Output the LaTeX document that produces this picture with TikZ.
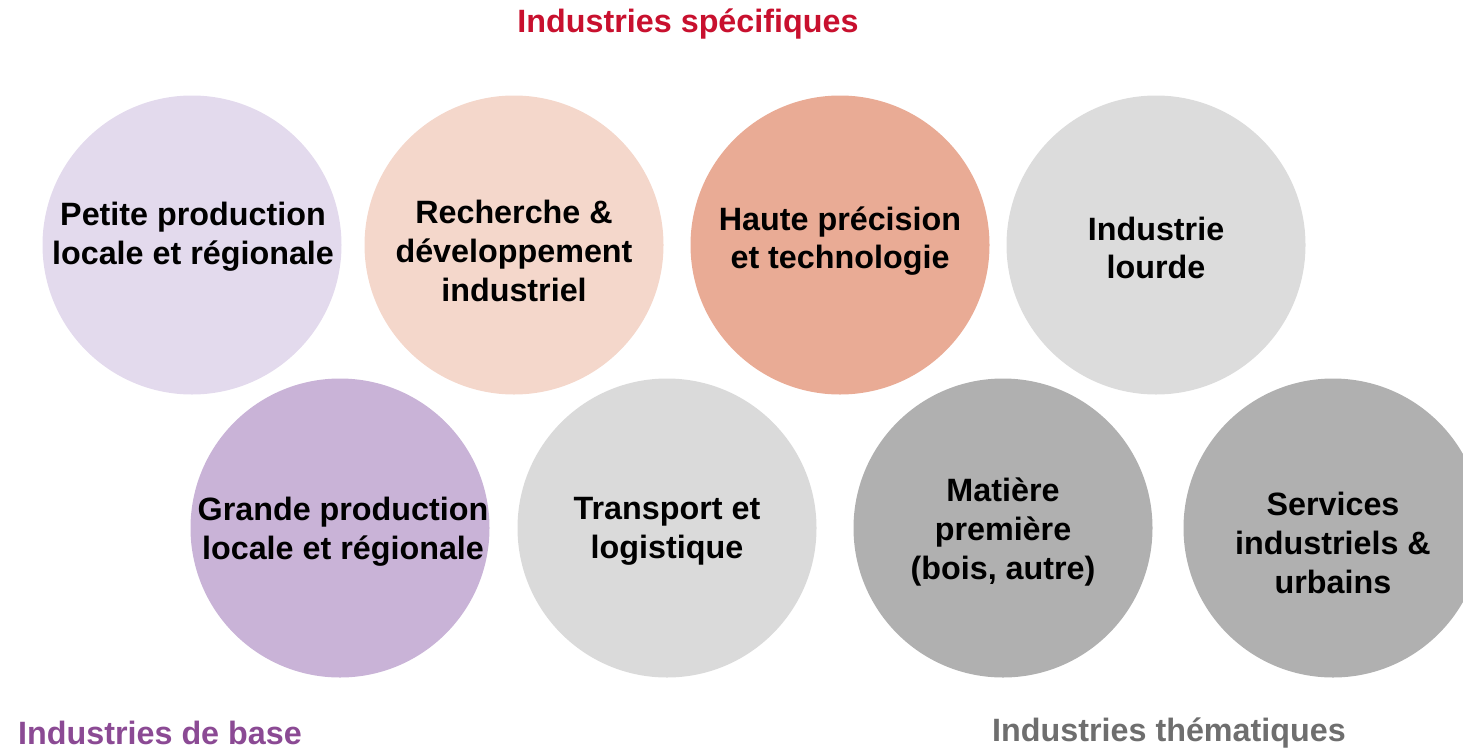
\documentclass[tikz,border=0pt]{standalone}
\usepackage{fontspec}
\setmainfont{Liberation Sans}
\definecolor{cPetite}{HTML}{E3DAED}
\definecolor{cRech}{HTML}{F4D7CB}
\definecolor{cHaute}{HTML}{E9AB95}
\definecolor{cLourde}{HTML}{DCDCDC}
\definecolor{cGrande}{HTML}{C9B3D7}
\definecolor{cTrans}{HTML}{DADADA}
\definecolor{cDark}{HTML}{B0B0B0}
\definecolor{cRed}{HTML}{C8102E}
\definecolor{cPurple}{HTML}{8B4A94}
\definecolor{cGrey}{HTML}{6E6E6E}
\begin{document}
\begin{tikzpicture}[x=1pt,y=-1pt,
  disc/.style={circle,minimum size=299pt,inner sep=0pt,draw=none},
  ctext/.style={align=center,inner sep=0pt,font=\bfseries\fontsize{32.3}{38.8}\selectfont},
  head/.style={inner sep=0pt,font=\bfseries\fontsize{32.3}{38}\selectfont}]
\useasboundingbox (0,0) rectangle (1463,747);
\node[disc,fill=cPetite] (c1) at (192,245) {};
\node[disc,fill=cRech] (c2) at (514,245) {};
\node[disc,fill=cHaute] (c3) at (840,245) {};
\node[disc,fill=cLourde] (c4) at (1156,245) {};
\node[disc,fill=cGrande] (c5) at (340,528) {};
\node[disc,fill=cTrans] (c6) at (667,528) {};
\node[disc,fill=cDark] (c7) at (1003,528) {};
\node[disc,fill=cDark] (c8) at (1333,528) {};
\node[ctext] (t1) at (193,237) {Petite production\\locale et régionale};
\node[ctext] (t2) at (514,251) {Recherche \&\\développement\\industriel};
\node[ctext] (t3) at (840,241) {Haute précision\\et technologie};
\node[ctext] (t4) at (1156,248) {Industrie\\lourde};
\node[ctext] (t5) at (343,532) {Grande production\\locale et régionale};
\node[ctext] (t6) at (667,531) {Transport et\\logistique};
\node[ctext] (t7) at (1003,532) {Matière\\première\\(bois, autre)};
\node[ctext] (t8) at (1333,543) {Services\\industriels \&\\urbains};
\node[head,text=cRed] (h1) at (688,24) {Industries spécifiques};
\node[head,text=cPurple,anchor=west] (h2) at (18,733) {Industries de base};
\node[head,text=cGrey,anchor=west] (h3) at (992,733) {Industries thématiques};
\end{tikzpicture}
\end{document}
